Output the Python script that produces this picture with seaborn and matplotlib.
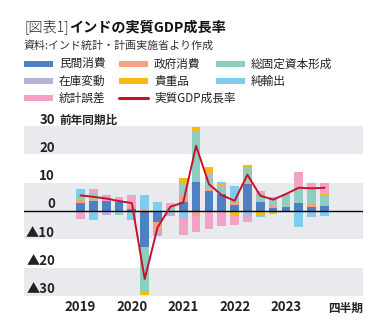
import matplotlib
matplotlib.use("Agg")
import matplotlib.pyplot as plt
import seaborn as sns
import numpy as np
import pandas as pd
from matplotlib.patches import Rectangle
from matplotlib.lines import Line2D

# ---------------- data ----------------
quarters = [f"{y}Q{q}" for y in range(2019, 2024) for q in range(1, 5)]
year_labels = ["2019", "2020", "2021", "2022", "2023"]

private_cons = [2.9, 3.6, 3.4, 3.1, 0.6, -12.8, -4.0, 0.0, 3.1, 10.1, 7.2, 6.0, 2.2, 9.5, 3.1, 1.0, 1.3, 2.7, 1.3, 1.9]
gov_cons     = [1.0, 0.6, -0.4, -0.4, 1.2, 0.7, -3.3, 0.0, 2.3, -1.6, 0.3, 0.0, 1.4, 1.2, 0.0, 0.6, 0.0, 0.3, 1.2, 0.0]
gfcf         = [1.4, 2.2, 0.0, -1.0, -1.4, -15.3, 0.0, 1.2, 4.5, 17.8, 4.5, 2.4, 0.0, 4.9, 3.2, 2.8, 4.7, 5.3, 5.5, 3.3]
inventory    = [0.5, -1.0, -1.0, 0.6, 0.0, 0.0, -1.6, -1.6, 0.0, 0.5, 1.2, 0.6, 0.0, 0.0, 0.0, 0.0, -0.3, 0.0, -0.6, 0.0]
valuables    = [0.0, 0.0, 0.0, 0.0, 0.0, -1.5, 0.0, 0.0, 1.6, 0.8, 2.4, 0.6, -1.6, 0.6, -1.5, -1.0, 0.0, 0.0, 0.0, 0.8]
net_exports  = [2.0, -2.2, 0.0, 0.0, -1.6, 4.9, 3.1, 0.0, -2.6, 0.6, 0.0, 0.8, 5.1, -1.6, -0.6, 0.4, 0.0, -5.8, -1.4, -1.6]
discrepancy  = [-2.9, 1.4, 2.4, 1.2, 3.8, 0.0, 0.0, 1.8, -5.9, -5.9, -6.4, -5.2, -3.5, -2.4, 0.9, 0.0, 0.0, 5.3, 1.8, 3.8]
gdp_growth   = [5.5, 5.0, 4.4, 3.5, 2.8, -24.0, -5.8, 1.5, 3.0, 23.0, 9.5, 5.6, 3.6, 12.8, 5.4, 4.0, 6.0, 8.2, 8.0, 8.2]

series_names = ["民間消費", "政府消費", "総固定資本形成", "在庫変動", "貴重品", "純輸出", "統計誤差"]
series_values = [private_cons, gov_cons, gfcf, inventory, valuables, net_exports, discrepancy]
line_name = "実質GDP成長率"

colors = {
    "民間消費": "#4f80c3",
    "政府消費": "#f2a184",
    "総固定資本形成": "#8ccfbf",
    "在庫変動": "#b8b2d9",
    "貴重品": "#f6bb12",
    "純輸出": "#80ccee",
    "統計誤差": "#f2a2c6",
}
line_color = "#c8102e"
band_color = "#e8eaed"

# ---------------- style ----------------
sns.set_theme(style="white")
plt.rcParams["font.family"] = ["Noto Sans CJK JP", "DejaVu Sans"]

W, H = 387, 328
fig = plt.figure(figsize=(W / 100, H / 100), dpi=100)
L, R, T, B = 24, 363, 126, 296
ax = fig.add_axes([L / W, 1 - B / H, (R - L) / W, (B - T) / H])

df = pd.DataFrame({"quarter": quarters, **dict(zip(series_names, series_values)),
                   line_name: gdp_growth})
df["x"] = np.arange(len(df))

# background bands
for lo, hi in [(20, 30), (-10, 10), (-30, -20)]:
    ax.axhspan(lo, hi, color=band_color, lw=0, zorder=0)

# stacked bars
pos_bottom = np.zeros(len(df))
neg_bottom = np.zeros(len(df))
bw = 0.68
for name in series_names:
    v = df[name].to_numpy(dtype=float)
    pos = np.where(v > 0, v, 0)
    neg = np.where(v < 0, v, 0)
    ax.bar(df["x"], pos, width=bw, bottom=pos_bottom, color=colors[name], lw=0, zorder=2)
    ax.bar(df["x"], neg, width=bw, bottom=neg_bottom, color=colors[name], lw=0, zorder=2)
    pos_bottom += pos
    neg_bottom += neg

ax.axhline(0, color="black", lw=1.0, zorder=3)

sns.lineplot(data=df, x="x", y=line_name, color=line_color, lw=1.4, ax=ax,
             zorder=4, legend=False)

ax.set_xlim(-4.4, 22.0)
ax.set_ylim(-30, 30)
for s in ax.spines.values():
    s.set_visible(False)
ax.set_xlabel("")
ax.set_ylabel("")
ax.set_yticks([])
ax.set_xticks(df["x"][::4])
ax.set_xticklabels(year_labels, fontsize=9.5, fontweight="bold", color="#222222")
ax.tick_params(axis="x", length=0, pad=3)

# y labels drawn inside the plot, above their value lines
xlab = (55 - L) / (R - L)
trans = matplotlib.transforms.blended_transform_factory(ax.transAxes, ax.transData)
for val in [20, 10, 0, -10, -20, -30]:
    lab = str(val) if val >= 0 else "▲" + str(-val)
    ax.text(xlab, val + 2.3, lab, transform=trans, ha="right", va="center",
            fontsize=9.5, fontweight="bold", color="#222222", clip_on=False)
ax.text(xlab, 32.0, "30", transform=trans, ha="right", va="center",
        fontsize=9.5, fontweight="bold", color="#222222", clip_on=False)
ax.text((59 - L) / (R - L), 32.0, "前年同期比", transform=trans, ha="left", va="center",
        fontsize=8.4, fontweight="bold", color="#222222", clip_on=False)
ax.text(1.0, -0.035, "四半期", transform=ax.transAxes, ha="right", va="top",
        fontsize=8.4, fontweight="bold", color="#222222")

# ---------------- titles ----------------
t1 = fig.text(24 / W, 1 - 27 / H, "[図表1]", fontsize=10.2, fontweight="light",
              va="center", ha="left", color="#222222")
fig.canvas.draw()
bb = t1.get_window_extent()
fig.text(bb.x1 / W, 1 - 27 / H, "インドの実質GDP成長率", fontsize=10.2, fontweight="bold",
         va="center", ha="left", color="#111111")
fig.text(24 / W, 1 - 45 / H, "資料:インド統計・計画実施省より作成", fontsize=7.9,
         va="center", ha="left", color="#333333")

# ---------------- legend (manual) ----------------
legend_items = series_names + [line_name]
col_x = [24, 119, 216]
row_y = [64, 81, 98]
for i, name in enumerate(legend_items):
    c, r = i % 3, i // 3
    x0, y0 = col_x[c], row_y[r]
    if name == line_name:
        fig.add_artist(Line2D([x0 / W, (x0 + 29) / W], [1 - y0 / H, 1 - y0 / H],
                              color=line_color, lw=2.2, transform=fig.transFigure))
    else:
        fig.add_artist(Rectangle((x0 / W, 1 - (y0 + 3) / H), 29 / W, 6 / H,
                                 color=colors[name], lw=0, transform=fig.transFigure))
    fig.text((x0 + 35) / W, 1 - y0 / H, name, fontsize=8.4, va="center", ha="left",
             color="#222222")

fig.savefig("out.png", dpi=100)
